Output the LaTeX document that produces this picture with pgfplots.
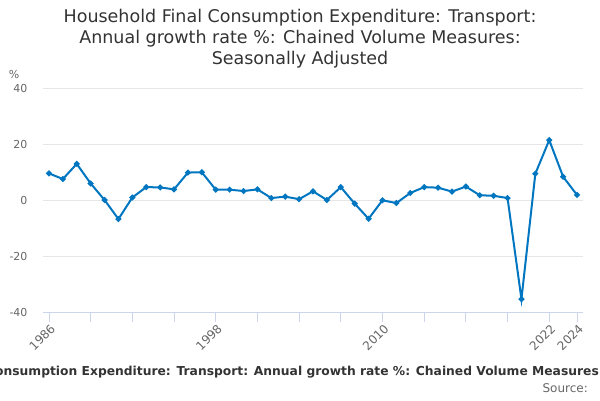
\documentclass[border=0pt]{standalone}
\usepackage{pgfplots}
\pgfplotsset{compat=1.18}
\usepackage{fontspec}
\setmainfont{DejaVu Sans}
\definecolor{linec}{RGB}{0,118,192}
\definecolor{gridc}{RGB}{230,230,230}
\definecolor{axisc}{RGB}{204,214,235}
\definecolor{labc}{RGB}{102,102,102}
\definecolor{titc}{RGB}{51,51,51}
\pgfplotstableread{
year val
1986 9.5
1987 7.5
1988 12.9
1989 5.9
1990 0.0
1991 -6.8
1992 0.9
1993 4.6
1994 4.5
1995 3.8
1996 9.8
1997 9.9
1998 3.7
1999 3.7
2000 3.2
2001 3.8
2002 0.7
2003 1.2
2004 0.3
2005 3.1
2006 0.0
2007 4.6
2008 -1.3
2009 -6.7
2010 -0.1
2011 -1.1
2012 2.5
2013 4.6
2014 4.4
2015 3.0
2016 4.8
2017 1.7
2018 1.5
2019 0.7
2020 -35.4
2021 9.4
2022 21.4
2023 8.3
2024 1.8
}\datatab
\begin{document}
\begin{tikzpicture}
\clip (0pt,0pt) rectangle (600pt,400pt);
\path[use as bounding box] (0pt,0pt) rectangle (600pt,400pt);
\begin{axis}[
  at={(43pt,88pt)}, anchor=south west,
  width=540pt, height=224pt, scale only axis,
  xmin=1985.57, xmax=2024.43,
  ymin=-40, ymax=40,
  ytick={-40,-20,0,20,40},
  xtick={1986,1998,2010,2022,2024},
  minor xtick={1989,1992,1995,2001,2004,2007,2013,2016,2019},
  ymajorgrids, grid style={draw=gridc, line width=0.8pt},
  separate axis lines,
  axis x line*=bottom, axis y line*=left,
  x axis line style={draw=axisc, line width=0.8pt, -},
  y axis line style={draw=none},
  xtick style={draw=axisc, line width=0.8pt},
  minor x tick style={draw=axisc, line width=0.8pt},
  ytick style={draw=none},
  tick align=outside,
  major tick length=10pt,
  minor tick length=10pt,
  /pgf/number format/assume math mode=true,
  /pgf/number format/1000 sep={},
  ticklabel style={text=labc},
  xticklabel style={font=\fontsize{12}{12}\selectfont, rotate=45, anchor=north east, xshift=3pt, yshift=2pt},
  yticklabel style={font=\fontsize{11}{11}\selectfont, anchor=east, xshift=-2pt},
  clip=false,
]
\addplot[color=linec, line width=2pt, mark=*, mark size=1.8pt, mark options={fill=linec, draw=linec}] table[x=year, y=val] {\datatab};
\end{axis}
\node[align=center, text=titc, font=\fontsize{17.5}{21}\selectfont] at (300pt,361pt) {Household Final Consumption Expenditure: Transport:\\Annual growth rate \%: Chained Volume Measures:\\Seasonally Adjusted};
\node[text=labc, font=\fontsize{11}{11}\selectfont] at (14pt,326pt) {\%};
\node[text=titc, font=\bfseries\fontsize{12.3}{12}\selectfont, anchor=base east, inner sep=0pt] at (599pt,24.5pt) {Household Final Consumption Expenditure: Transport: Annual growth rate \%: Chained Volume Measures\rlap{: Seasonally Adjusted}};
\node[text=labc, font=\fontsize{12}{12}\selectfont, anchor=base east, inner sep=0pt] at (588pt,8pt) {Source:};
\end{tikzpicture}
\end{document}
